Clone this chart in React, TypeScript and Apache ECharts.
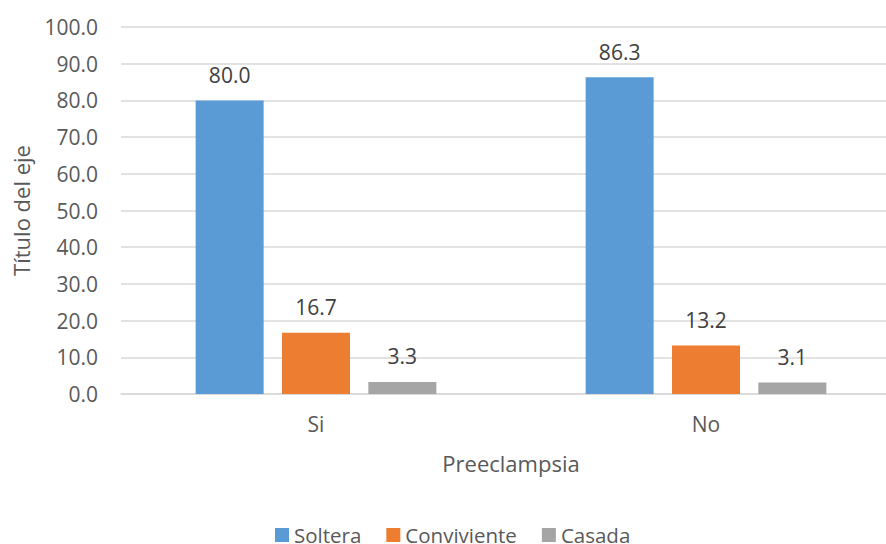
import React, { useEffect, useRef } from "react";
import * as echarts from "echarts";

// Estado civil por grupo de preeclampsia (%)
const categories = ["Si", "No"];
const seriesNames = ["Soltera", "Conviviente", "Casada"];
const soltera = [80.0, 86.3];
const conviviente = [16.7, 13.2];
const casada = [3.3, 3.1];
const colors = ["#5B9BD5", "#ED7D31", "#A5A5A5"];

const FONT = "'Open Sans', 'Noto Sans', sans-serif";
const TEXT = "#595959";

export default function App() {
  const ref = useRef<HTMLDivElement>(null);

  useEffect(() => {
    if (!ref.current) return;
    const chart = echarts.init(ref.current, null, { renderer: "svg" });
    const values = [soltera, conviviente, casada];
    chart.setOption({
      animation: false,
      backgroundColor: "#ffffff",
      textStyle: { fontFamily: FONT, color: TEXT },
      grid: { left: 121, right: 0, top: 27, bottom: 150 },
      legend: {
        left: 275,
        top: 524,
        padding: 0,
        itemWidth: 14,
        itemHeight: 14,
        itemGap: 25,
        icon: "rect",
        textStyle: { fontFamily: FONT, fontSize: 20.5, lineHeight: 22, color: TEXT },
        data: seriesNames,
      },
      xAxis: {
        type: "category",
        data: categories,
        name: "Preeclampsia",
        nameLocation: "middle",
        nameGap: 58,
        nameTextStyle: { fontFamily: FONT, fontSize: 22, color: TEXT },
        axisLine: { show: true, lineStyle: { color: "#D9D9D9", width: 1.5 } },
        axisTick: { show: false },
        axisLabel: { margin: 19, fontFamily: FONT, fontSize: 21, color: TEXT },
      },
      yAxis: {
        type: "value",
        min: 0,
        max: 100,
        interval: 10,
        name: "Título del eje",
        nameLocation: "middle",
        nameGap: 89,
        nameTextStyle: { fontFamily: FONT, fontSize: 22, color: TEXT },
        axisLine: { show: false },
        axisTick: { show: false },
        axisLabel: {
          margin: 23,
          fontFamily: FONT,
          fontSize: 21,
          color: TEXT,
          formatter: (v: number) => v.toFixed(1),
        },
        splitLine: { lineStyle: { color: "#D9D9D9", width: 1.5 } },
      },
      series: seriesNames.map((name, i) => ({
        name,
        type: "bar",
        data: values[i],
        barWidth: 68,
        barGap: "27%",
        itemStyle: { color: colors[i] },
        label: {
          show: true,
          position: "top",
          distance: 15,
          fontFamily: FONT,
          fontSize: 21,
          color: "#404040",
          formatter: (p: any) => Number(p.value).toFixed(1),
        },
      })),
    });
    return () => chart.dispose();
  }, []);

  return (
    <div
      style={{
        position: "fixed",
        left: 0,
        top: 0,
        width: 886,
        height: 544,
        overflow: "hidden",
        background: "#fff",
      }}
    >
      <div ref={ref} style={{ width: 901, height: 544 }} />
    </div>
  );
}
